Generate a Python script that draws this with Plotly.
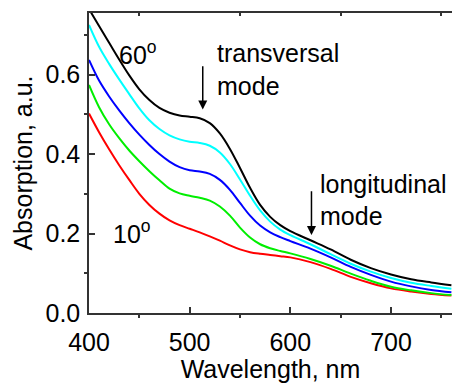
import plotly.graph_objects as go

wavelength = [400, 410, 420, 430, 440, 450, 460, 470, 480, 490, 500, 510, 520, 530, 540,
              550, 560, 570, 580, 590, 600, 620, 640, 660, 680, 700, 720, 740, 760]

abs_60 = [0.765, 0.722, 0.680, 0.638, 0.598, 0.563, 0.536, 0.516, 0.504, 0.497, 0.494, 0.490, 0.478, 0.452, 0.413,
          0.365, 0.315, 0.272, 0.242, 0.221, 0.206, 0.183, 0.160, 0.134, 0.113, 0.097, 0.085, 0.077, 0.070]
abs_50 = [0.725, 0.670, 0.627, 0.588, 0.551, 0.515, 0.485, 0.463, 0.447, 0.437, 0.431, 0.428, 0.421, 0.404, 0.375,
          0.336, 0.295, 0.258, 0.230, 0.210, 0.196, 0.173, 0.148, 0.124, 0.104, 0.088, 0.076, 0.068, 0.061]
abs_40 = [0.637, 0.585, 0.545, 0.510, 0.478, 0.449, 0.423, 0.400, 0.381, 0.367, 0.359, 0.356, 0.350, 0.335, 0.310,
          0.277, 0.245, 0.220, 0.203, 0.191, 0.181, 0.162, 0.140, 0.116, 0.096, 0.079, 0.067, 0.058, 0.052]
abs_20 = [0.574, 0.518, 0.475, 0.440, 0.409, 0.382, 0.357, 0.334, 0.313, 0.301, 0.295, 0.290, 0.283, 0.268, 0.245,
          0.215, 0.190, 0.173, 0.163, 0.156, 0.150, 0.136, 0.119, 0.099, 0.081, 0.066, 0.057, 0.050, 0.045]
abs_10 = [0.502, 0.455, 0.412, 0.372, 0.335, 0.300, 0.272, 0.250, 0.233, 0.221, 0.212, 0.203, 0.193, 0.182, 0.170,
          0.160, 0.153, 0.149, 0.146, 0.143, 0.140, 0.128, 0.111, 0.091, 0.075, 0.062, 0.054, 0.048, 0.044]

series = [("10°", abs_10, "#FF0000"), ("20°", abs_20, "#00EE00"), ("40°", abs_40, "#0000FF"),
          ("50°", abs_50, "#00FFFF"), ("60°", abs_60, "#000000")]

x_ticks = [400, 500, 600, 700]
x_minor = [450, 550, 650, 750]
y_ticks = [0.0, 0.2, 0.4, 0.6]
y_minor = [0.1, 0.3, 0.5, 0.7]

FONT = "Liberation Sans, Arial, sans-serif"
AX = "#333333"
FS = 25

fig = go.Figure()
for name, vals, col in series:
    fig.add_trace(go.Scatter(x=wavelength, y=vals, mode="lines", name=name,
                             line=dict(color=col, width=2, shape="spline", smoothing=1.0),
                             showlegend=False, hoverinfo="skip"))
# invisible trace to anchor the top axis
fig.add_trace(go.Scatter(x=[wavelength[0]], y=[None], xaxis="x2", showlegend=False, hoverinfo="skip"))

xr = [400, 760.6]
fig.update_layout(
    width=452, height=383,
    margin=dict(l=89, r=0, t=13, b=70),
    paper_bgcolor="white", plot_bgcolor="white",
    font=dict(family=FONT, size=FS, color="black"),
    xaxis=dict(range=xr, tickvals=x_ticks, ticks="inside", ticklen=6, tickwidth=1.5, tickcolor=AX,
               showline=True, linecolor=AX, linewidth=1.5, showgrid=False, zeroline=False, automargin=False,
               minor=dict(tickvals=x_minor, ticks="outside", ticklen=3, tickcolor=AX, tickwidth=1.5),
               title=dict(text="Wavelength, nm", standoff=1, font=dict(size=FS)), tickfont=dict(size=FS),
               ticklabelstandoff=6),
    xaxis2=dict(range=xr, overlaying="x", side="top", tickvals=x_minor, ticks="inside", ticklen=3,
                tickwidth=1.5, tickcolor=AX, showline=True, linecolor=AX, linewidth=1.5, automargin=False,
                showticklabels=False, showgrid=False, zeroline=False),
    yaxis=dict(range=[0, 0.755], tickvals=y_ticks, tickformat=".1f", ticks="inside", ticklen=6, tickwidth=1.5,
               tickcolor=AX, showline=True, linecolor=AX, linewidth=1.5, showgrid=False, zeroline=False,
               automargin=False,
               minor=dict(tickvals=y_minor, ticks="outside", ticklen=3, tickcolor=AX, tickwidth=1.5),
               title=dict(text="Absorption, a.u.", standoff=6, font=dict(size=FS)), tickfont=dict(size=FS),
               ticklabelstandoff=2),
)

fig.add_annotation(x=449, y=0.655, text="60<sup>o</sup>", showarrow=False, xanchor="center", yanchor="middle",
                   font=dict(size=FS))
fig.add_annotation(x=443, y=0.205, text="10<sup>o</sup>", showarrow=False, xanchor="center", yanchor="middle",
                   font=dict(size=FS))
fig.add_annotation(x=525, y=0.655, text="transversal", showarrow=False, xanchor="left", yanchor="middle",
                   font=dict(size=FS))
fig.add_annotation(x=525, y=0.572, text="mode", showarrow=False, xanchor="left", yanchor="middle",
                   font=dict(size=FS))
fig.add_annotation(x=627, y=0.325, text="longitudinal", showarrow=False, xanchor="left", yanchor="middle",
                   font=dict(size=FS))
fig.add_annotation(x=627, y=0.245, text="mode", showarrow=False, xanchor="left", yanchor="middle",
                   font=dict(size=FS))
fig.add_annotation(x=513, y=0.512, ax=513, ay=0.625, axref="x", ayref="y", text="", showarrow=True,
                   arrowhead=2, arrowsize=1.2, arrowwidth=1.5, arrowcolor="black")
fig.add_annotation(x=621, y=0.196, ax=621, ay=0.31, axref="x", ayref="y", text="", showarrow=True,
                   arrowhead=2, arrowsize=1.2, arrowwidth=1.5, arrowcolor="black")

# remove the browser's default 8px body margin so the figure fills the window exactly
fig.write_html("out.html", config={"displayModeBar": False},
               post_script="document.body.style.margin='0';document.body.style.overflow='hidden';")
